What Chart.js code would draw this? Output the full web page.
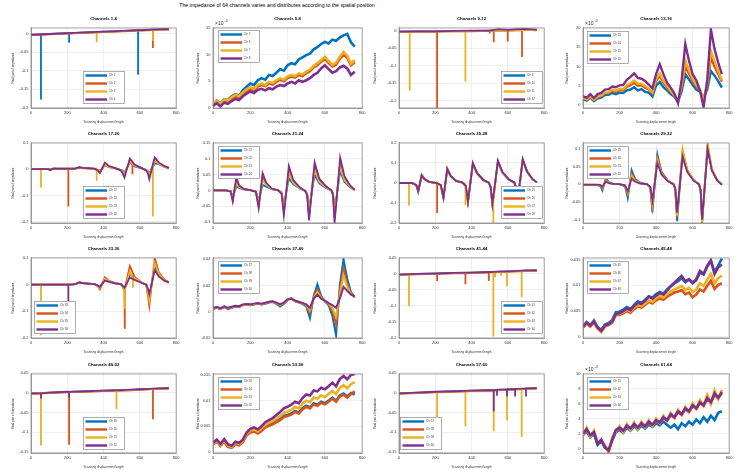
<!DOCTYPE html>
<html>
<head>
<meta charset="utf-8">
<script src="https://cdn.jsdelivr.net/npm/chart.js@4.4.0/dist/chart.umd.min.js"></script>
<style>
  body { margin: 0; width: 735px; height: 476px; position: relative; overflow: hidden; background: #fff;
         font-family: "Liberation Sans", Arial, sans-serif; }
  #title { position: absolute; left: 127px; top: 2px; width: 300px; text-align: center;
           font-size: 5.2px; line-height: 6px; color: #000; }
  canvas { position: absolute; }
</style>
</head>
<body>
<div id="title">The impedance of 64 channels varies and distributes according to the spatial position</div>
<script>
// ---- x positions (scanning displacement) at which values were read ----
var xBase = [0, 100, 200, 300, 400, 500, 550, 600, 650, 700, 760];
var xGrid = [0, 20, 40, 60, 80, 100, 120, 140, 160, 180, 200, 220, 240, 260, 280, 300, 320, 340, 360, 380,
             400, 420, 440, 460, 480, 500, 520, 540, 560, 580, 600, 620, 640, 660, 680, 700, 720, 740, 760];
var xWave = [0, 70, 95, 106, 125, 140, 165, 200, 230, 245, 266, 285, 315, 350, 368, 380, 407, 430, 465, 495,
             505, 515, 545, 570, 605, 635, 644, 652, 682, 705, 735, 760];
var xTicks = [0, 200, 400, 600, 800];

// ---- Channels 1-4 ----
var ch01 = [-0.003, -0.001, 0.001, 0.003, 0.005, 0.007, 0.008, 0.009, 0.010, 0.011, 0.012];
var ch02 = [-0.004, -0.002, 0, 0.002, 0.004, 0.006, 0.007, 0.008, 0.009, 0.010, 0.011];
var ch03 = [-0.0035, -0.0015, 0.0005, 0.0025, 0.0045, 0.0065, 0.0075, 0.0085, 0.0095, 0.0105, 0.0115];
var ch04 = [-0.003, -0.001, 0.0012, 0.0032, 0.0052, 0.0072, 0.0085, 0.0095, 0.0105, 0.0118, 0.0125];
// spikes: [series, x, base, tip]
var spikes01_04 = [[0, 55, -0.002, -0.178], [0, 210, 0.001, -0.025], [2, 362, 0.003, -0.023],
                   [0, 590, 0.009, -0.111], [1, 672, 0.010, -0.039], [2, 672, 0.010, -0.020]];
var yTicks01_04 = [-0.2, -0.15, -0.1, -0.05, 0];

// ---- Channels 5-8 (x 1e-3) ----
var ch05 = [0.8, 1.4, 0.9, 1.6, 1.5, 2.2, 2.6, 2.3, 3.3, 4.0, 4.6, 4.3, 5.2, 5.6, 5.3, 6.2, 6.0, 6.6, 7.3, 7.0,
            8.0, 8.4, 8.2, 9.1, 9.5, 9.9, 10.2, 11.0, 11.4, 12.0, 12.4, 12.1, 12.8, 12.6, 13.2, 13.6, 13.9, 12.3, 11.5];
var ch06 = [0.7, 1.1, 0.6, 1.4, 1.2, 1.8, 2.2, 1.9, 2.6, 3.2, 3.6, 3.3, 4.0, 4.3, 4.1, 4.6, 4.4, 4.9, 5.3, 5.0,
            5.6, 5.9, 5.7, 6.2, 6.0, 6.5, 6.9, 7.6, 8.0, 8.7, 9.2, 8.4, 7.8, 8.1, 9.2, 10.0, 9.4, 8.0, 8.6];
var ch07 = [0.9, 1.3, 0.8, 1.6, 1.4, 2.0, 2.5, 2.2, 2.9, 3.5, 3.9, 3.6, 4.3, 4.6, 4.3, 4.9, 4.7, 5.2, 5.6, 5.3,
            5.9, 6.2, 6.0, 6.5, 6.3, 6.8, 7.2, 7.9, 8.4, 9.0, 9.6, 8.8, 8.1, 8.5, 9.6, 10.5, 9.8, 8.3, 9.0];
var ch08 = [0.4, 0.9, 0.3, 1.0, 0.8, 1.3, 1.7, 1.5, 2.2, 2.7, 3.1, 2.8, 3.4, 3.6, 3.3, 3.7, 3.5, 4.0, 4.3, 4.1,
            4.6, 4.9, 4.6, 5.2, 4.9, 5.2, 5.6, 6.2, 6.6, 7.4, 8.0, 7.3, 6.6, 6.9, 7.6, 7.9, 7.4, 6.2, 6.8];
var yTicks05_08 = [0, 5, 10, 15];

// ---- Channels 9-12 ----
var ch09 = [-0.003, -0.002, -0.002, -0.001, -0.001, 0, 0.001, 0.001, 0.002, 0.003, 0.002];
var ch10 = [-0.004, -0.003, -0.003, -0.002, -0.002, -0.001, 0, 0, 0.001, 0.002, 0.001];
var ch11 = [-0.004, -0.003, -0.002, -0.002, -0.001, -0.001, 0, 0.001, 0.001, 0.002, 0.002];
var ch12 = [-0.003, -0.002, -0.002, -0.001, 0, 0, 0.004, 0.002, 0.004, 0.005, 0.003];
var spikes09_12 = [[2, 59, -0.003, -0.171], [1, 210, -0.003, -0.24], [2, 366, -0.002, -0.145],
                   [1, 500, -0.001, -0.008], [1, 522, -0.001, -0.033], [1, 599, 0, -0.031], [1, 678, 0.001, -0.075]];
var yTicks09_12 = [-0.2, -0.15, -0.1, -0.05, 0];

// ---- Channels 13-16 (x 1e-3) ----
var ch13 = [1.5, 1.1, 1.9, 1.0, 1.7, 1.9, 2.6, 2.6, 3.1, 2.8, 3.2, 3.1, 3.8, 4.0, 4.6, 3.8, 4.1, 3.4, 3.2, 2.2,
            5.0, 6.0, 4.6, 3.8, 2.8, 2.1, 0.9, 3.5, 8.0, 6.6, 5.2, 4.0, 3.4, 2.0, 4.0, 8.8, 7.6, 6.2, 4.5];
var ch14 = [1.7, 1.4, 2.1, 1.3, 2.0, 2.3, 3.0, 3.1, 3.7, 3.4, 3.9, 3.8, 4.7, 5.1, 5.8, 5.0, 5.1, 4.5, 4.0, 3.0,
            6.2, 7.6, 5.8, 4.6, 3.4, 2.5, 0.8, 4.5, 10.0, 8.1, 6.2, 4.8, 3.8, 1.2, 5.0, 12.3, 10.0, 8.0, 6.0];
var ch15 = [1.8, 1.5, 2.3, 1.4, 2.2, 2.5, 3.2, 3.3, 4.0, 3.7, 4.2, 4.1, 5.1, 5.6, 6.4, 5.5, 5.5, 4.9, 4.3, 3.3,
            6.8, 8.2, 6.3, 5.0, 3.6, 2.6, 0.7, 5.2, 11.5, 9.0, 6.8, 5.2, 4.0, 1.0, 5.8, 14.0, 11.3, 8.8, 6.4];
var ch16 = [2.2, 1.9, 2.8, 1.8, 2.8, 3.1, 4.0, 4.1, 4.8, 4.6, 5.1, 5.2, 6.5, 7.3, 8.2, 7.0, 6.8, 6.2, 5.3, 4.3,
            8.0, 10.6, 8.0, 5.8, 4.5, 3.0, 0.5, 6.5, 15.8, 11.5, 8.0, 6.4, 3.8, -0.6, 6.5, 19.6, 14.5, 11.0, 8.0];
var yTicks13_16 = [0, 5, 10, 15, 20];

// ---- Channels 17-20 ----
var ch17 = [0, 0, 0, -0.002, 0.002, 0.001, 0.001, 0.001, 0.001, 0.002, 0.006, 0.004, 0.003, 0.001, -0.003, -0.006,
            0.014, 0.008, 0.003, -0.002, -0.006, -0.012, 0.025, 0.011, 0.004, -0.002, -0.007, -0.016, 0.022, 0.019, 0.009, 0.003];
var ch18 = [0, 0, 0, -0.002, 0.002, 0.002, 0.002, 0.002, 0.002, 0.003, 0.007, 0.005, 0.003, 0.001, -0.004, -0.011,
            0.020, 0.010, 0.004, -0.004, -0.010, -0.022, 0.034, 0.015, 0.005, -0.004, -0.011, -0.026, 0.040, 0.023, 0.011, 0.005];
var ch19 = [0, 0, 0, -0.002, 0.002, 0.002, 0.002, 0.002, 0.002, 0.003, 0.007, 0.004, 0.003, 0.001, -0.004, -0.009,
            0.017, 0.009, 0.003, -0.003, -0.008, -0.018, 0.030, 0.013, 0.005, -0.003, -0.009, -0.022, 0.034, 0.020, 0.010, 0.004];
var ch20 = [0, 0, 0, -0.003, 0.003, 0.002, 0.002, 0.002, 0.002, 0.003, 0.008, 0.005, 0.004, 0.002, -0.005, -0.015,
            0.025, 0.012, 0.004, -0.005, -0.015, -0.032, 0.041, 0.018, 0.006, -0.005, -0.015, -0.038, 0.045, 0.025, 0.012, 0.005];
var spikes17_20 = [[2, 55, 0, -0.07], [1, 206, 0.002, -0.142], [2, 362, 0, -0.044], [1, 559, 0.015, -0.019], [2, 672, 0.010, -0.18]];
var yTicks17_20 = [-0.2, -0.1, 0, 0.1];

// ---- Channels 21-24 ----
var ch21 = [0, 0, -0.002, -0.020, 0.012, 0.008, 0.003, 0.001, -0.003, -0.033, 0.018, 0.012, 0.004, 0, -0.007, -0.047,
            0.038, 0.020, 0.006, -0.001, -0.010, -0.057, 0.050, 0.022, 0.008, 0, -0.010, -0.065, 0.060, 0.027, 0.010, 0.001];
var ch22 = [0, 0, -0.003, -0.030, 0.030, 0.013, 0.004, 0.001, -0.004, -0.048, 0.042, 0.021, 0.005, 0, -0.009, -0.067,
            0.065, 0.028, 0.008, -0.002, -0.014, -0.081, 0.076, 0.031, 0.012, 0, -0.014, -0.088, 0.088, 0.038, 0.014, 0.002];
var ch23 = [0, 0, -0.003, -0.025, 0.022, 0.011, 0.004, 0.001, -0.004, -0.040, 0.032, 0.018, 0.004, 0, -0.008, -0.057,
            0.055, 0.024, 0.007, -0.001, -0.012, -0.068, 0.064, 0.027, 0.010, 0, -0.012, -0.074, 0.074, 0.032, 0.012, 0.001];
var ch24 = [0, 0, -0.004, -0.035, 0.042, 0.016, 0.005, 0.001, -0.005, -0.056, 0.055, 0.025, 0.006, 0, -0.011, -0.079,
            0.077, 0.033, 0.010, -0.002, -0.016, -0.095, 0.089, 0.037, 0.014, 0, -0.016, -0.103, 0.103, 0.045, 0.016, 0.002];
var yTicks21_24 = [-0.1, -0.05, 0, 0.05, 0.1, 0.15];

// ---- Channels 25-28 ----
var ch25 = [0, 0, -0.011, -0.044, 0.036, 0.019, 0.006, 0.001, -0.011, -0.076, 0.066, 0.033, 0.010, 0.002, -0.016, -0.096,
            0.094, 0.047, 0.014, 0.002, -0.022, -0.110, 0.104, 0.051, 0.017, 0.003, -0.022, -0.104, 0.112, 0.056, 0.019, 0.003];
var ch26 = [0, 0, -0.011, -0.043, 0.042, 0.021, 0.006, 0.001, -0.011, -0.075, 0.074, 0.036, 0.010, 0.002, -0.016, -0.095,
            0.098, 0.049, 0.015, 0.002, -0.021, -0.108, 0.108, 0.053, 0.017, 0.003, -0.021, -0.103, 0.116, 0.058, 0.019, 0.003];
var ch27 = [0, 0, -0.010, -0.042, 0.040, 0.021, 0.006, 0.001, -0.011, -0.074, 0.072, 0.036, 0.010, 0.002, -0.016, -0.094,
            0.100, 0.050, 0.015, 0.002, -0.021, -0.107, 0.110, 0.054, 0.018, 0.003, -0.021, -0.102, 0.118, 0.059, 0.020, 0.003];
var ch28 = [0, 0, -0.010, -0.040, 0.038, 0.020, 0.006, 0.001, -0.010, -0.072, 0.070, 0.035, 0.010, 0.002, -0.015, -0.092,
            0.100, 0.050, 0.015, 0.002, -0.020, -0.105, 0.112, 0.055, 0.018, 0.003, -0.020, -0.100, 0.120, 0.060, 0.020, 0.003];
var spikes25_28 = [[2, 55, 0, -0.112], [1, 210, 0.001, -0.15], [2, 366, -0.005, -0.11], [2, 520, -0.09, -0.205]];
var yTicks25_28 = [-0.2, -0.1, 0, 0.1, 0.2];

// ---- Channels 29-32 ----
var ch29 = [-0.002, -0.002, -0.005, -0.018, 0.018, 0.006, 0.001, 0, -0.006, -0.040, 0.040, 0.015, 0.004, 0, -0.010, -0.080,
            0.085, 0.035, 0.010, 0, -0.015, -0.105, 0.090, 0.040, 0.012, 0, -0.020, -0.110, 0.105, 0.040, 0.010, -0.002];
var ch30 = [-0.002, -0.002, -0.004, -0.013, 0.013, 0.005, 0.001, 0, -0.005, -0.030, 0.030, 0.012, 0.003, 0, -0.009, -0.065,
            0.075, 0.032, 0.009, 0, -0.014, -0.095, 0.095, 0.040, 0.012, 0, -0.019, -0.110, 0.110, 0.042, 0.011, -0.001];
var ch31 = [-0.001, -0.001, -0.003, -0.010, 0.010, 0.004, 0.001, 0, -0.004, -0.025, 0.025, 0.010, 0.003, 0, -0.008, -0.055,
            0.070, 0.030, 0.009, 0, -0.013, -0.090, 0.100, 0.042, 0.012, 0, -0.018, -0.108, 0.117, 0.045, 0.012, -0.001];
var ch32 = [-0.001, -0.001, -0.002, -0.008, 0.008, 0.003, 0.001, 0, -0.003, -0.020, 0.016, 0.007, 0.002, 0, -0.007, -0.045,
            0.060, 0.027, 0.008, 0, -0.011, -0.080, 0.078, 0.035, 0.010, 0, -0.016, -0.100, 0.100, 0.040, 0.011, -0.001];
var yTicks29_32 = [-0.1, -0.05, 0, 0.05, 0.1];

// ---- Channels 33-36 ----
var ch33 = [0, 0, 0, 0, 0, 0, 0, 0, 0.001, 0.002, 0.008, 0.006, 0.004, 0.002, -0.004, -0.010,
            0.020, 0.011, 0.005, 0.002, -0.006, -0.020, 0.040, 0.022, 0.008, 0, -0.025, -0.050, 0.070, 0.035, 0.016, 0.008];
var ch34 = [0, 0, 0, 0, 0, 0, 0, 0, 0.001, 0.002, 0.009, 0.006, 0.004, 0.002, -0.006, -0.018,
            0.028, 0.014, 0.006, 0.002, -0.005, -0.015, 0.070, 0.030, 0.010, 0, -0.040, -0.080, 0.100, 0.045, 0.020, 0.008];
var ch35 = [0, 0, 0, 0, 0, 0, 0, 0, 0.001, 0.002, 0.009, 0.006, 0.004, 0.002, -0.004, -0.012,
            0.022, 0.012, 0.005, 0.002, -0.008, -0.030, 0.050, 0.025, 0.009, 0, -0.030, -0.060, 0.080, 0.040, 0.018, 0.008];
var ch36 = [0, 0, 0, 0, 0, 0, 0, 0, 0.001, 0.002, 0.008, 0.006, 0.004, 0.002, -0.003, -0.008,
            0.015, 0.010, 0.005, 0.002, -0.005, -0.012, 0.027, 0.018, 0.008, 0, -0.015, -0.035, 0.054, 0.030, 0.015, 0.008];
var spikes33_36 = [[2, 55, 0, -0.19], [3, 206, 0, -0.1], [1, 517, -0.015, -0.165], [2, 517, -0.02, -0.09], [2, 562, 0.02, -0.012]];
var yTicks33_36 = [-0.2, -0.1, 0, 0.1];

// ---- Channels 37-40 ----
var ch37 = [0.002, 0.003, 0.002, 0.0035, 0.002, 0.003, 0.004, 0.0035, 0.005, 0.0055, 0.005, 0.0055, 0.006, 0.0055, 0.006,
            0.007, 0.0075, 0.006, 0.004, 0.006, 0.009, 0.0105, 0.008, 0.007, 0.006, 0.004, -0.005, 0.012, 0.021, 0.012,
            0.008, 0.005, -0.003, -0.018, 0.020, 0.040, 0.025, 0.015, 0.011];
var ch38 = [0.0025, 0.0032, 0.0022, 0.0038, 0.0025, 0.0032, 0.0042, 0.0038, 0.0052, 0.0056, 0.0052, 0.0058, 0.0062, 0.0058, 0.0063,
            0.0072, 0.0076, 0.0064, 0.0048, 0.0065, 0.0092, 0.0102, 0.0082, 0.0072, 0.0063, 0.0048, -0.001, 0.011, 0.017, 0.011,
            0.0082, 0.0058, 0.001, -0.010, 0.016, 0.033, 0.021, 0.014, 0.011];
var ch39 = [0.0028, 0.0034, 0.0025, 0.004, 0.0028, 0.0035, 0.0044, 0.004, 0.0054, 0.0058, 0.0055, 0.006, 0.0064, 0.006, 0.0066,
            0.0074, 0.0078, 0.0068, 0.0052, 0.0068, 0.0094, 0.010, 0.0084, 0.0074, 0.0066, 0.0052, 0.001, 0.0105, 0.015, 0.0105,
            0.0084, 0.0062, 0.003, -0.004, 0.013, 0.028, 0.019, 0.0135, 0.0112];
var ch40 = [0.003, 0.0036, 0.0028, 0.0042, 0.003, 0.0038, 0.0046, 0.0042, 0.0056, 0.006, 0.0057, 0.0062, 0.0066, 0.0062, 0.0068,
            0.0076, 0.008, 0.007, 0.0058, 0.007, 0.0095, 0.0098, 0.0086, 0.0076, 0.0068, 0.0056, 0.003, 0.010, 0.013, 0.010,
            0.0085, 0.0066, 0.005, 0.003, 0.010, 0.019, 0.016, 0.013, 0.0118];
var yTicks37_40 = [-0.02, 0, 0.02, 0.04];

// ---- Channels 41-44 ----
var ch41 = [-0.002, 0, 0.001, 0.003, 0.004, 0.006, 0.007, 0.008, 0.009, 0.010, 0.011];
var ch42 = [-0.003, -0.001, 0, 0.002, 0.003, 0.005, 0.006, 0.007, 0.008, 0.009, 0.010];
var ch43 = [-0.0025, -0.0005, 0.0005, 0.0025, 0.0035, 0.0055, 0.0065, 0.0075, 0.0085, 0.0095, 0.0105];
var ch44 = [-0.002, 0, 0.0015, 0.0032, 0.0045, 0.0062, 0.0072, 0.0082, 0.0095, 0.011, 0.0115];
var spikes41_44 = [[2, 55, -0.001, -0.101], [1, 210, 0, -0.022], [1, 366, 0.002, -0.032], [1, 495, 0.005, -0.022],
                   [2, 520, 0.005, -0.195], [2, 530, 0.005, -0.01], [2, 562, 0.006, -0.006], [2, 595, 0.0075, -0.038],
                   [2, 676, 0.009, -0.073]];
var yTicks41_44 = [-0.2, -0.15, -0.1, -0.05, 0, 0.05];

// ---- Channels 45-48 ----
var ch45 = [0.0021, 0.0029, 0.0023, 0.0032, 0.0019, 0.0014, 0.0024, 0.0027, 0.0033, 0.0048, 0.0049, 0.0053, 0.0058, 0.0054, 0.0062,
            0.0069, 0.0066, 0.0072, 0.0079, 0.0076, 0.0083, 0.0087, 0.0084, 0.0092, 0.0098, 0.0104, 0.0108, 0.0114, 0.0106, 0.0111,
            0.0104, 0.0110, 0.0125, 0.0121, 0.0136, 0.0148, 0.0126, 0.0138, 0.0152];
var ch46 = [0.0018, 0.0026, 0.0020, 0.0028, 0.0016, 0.0010, 0.0020, 0.0023, 0.0028, 0.0042, 0.0043, 0.0046, 0.0050, 0.0047, 0.0054,
            0.0059, 0.0057, 0.0062, 0.0068, 0.0065, 0.0071, 0.0075, 0.0072, 0.0078, 0.0082, 0.0086, 0.0088, 0.0091, 0.0083, 0.0086,
            0.0077, 0.0082, 0.0092, 0.0088, 0.0099, 0.0109, 0.0093, 0.0101, 0.0104];
var ch47 = [0.0019, 0.0027, 0.0021, 0.0030, 0.0017, 0.0011, 0.0021, 0.0025, 0.0030, 0.0044, 0.0045, 0.0048, 0.0053, 0.0050, 0.0057,
            0.0062, 0.0060, 0.0065, 0.0071, 0.0068, 0.0075, 0.0079, 0.0076, 0.0083, 0.0088, 0.0092, 0.0095, 0.0099, 0.0091, 0.0095,
            0.0087, 0.0092, 0.0104, 0.0099, 0.0111, 0.0122, 0.0104, 0.0114, 0.0119];
var ch48 = [0.0020, 0.0028, 0.0022, 0.0030, 0.0018, 0.0012, 0.0022, 0.0025, 0.0030, 0.0045, 0.0046, 0.0050, 0.0055, 0.0052, 0.0060,
            0.0066, 0.0064, 0.0070, 0.0078, 0.0074, 0.0080, 0.0085, 0.0082, 0.0090, 0.0098, 0.0105, 0.0112, 0.0118, 0.0108, 0.0112,
            0.0105, 0.0112, 0.0128, 0.0122, 0.0138, 0.0148, 0.0122, 0.0135, 0.0140];
var yTicks45_48 = [0, 0.005, 0.01, 0.015];

// ---- Channels 49-52 ----
var ch49 = [-0.002, 0, 0.002, 0.003, 0.005, 0.006, 0.007, 0.008, 0.009, 0.010, 0.011];
var ch50 = [-0.003, -0.001, 0.001, 0.002, 0.004, 0.005, 0.006, 0.007, 0.008, 0.009, 0.010];
var ch51 = [-0.0025, -0.0005, 0.0015, 0.0025, 0.0045, 0.0055, 0.0065, 0.0075, 0.0085, 0.0095, 0.0105];
var ch52 = [-0.002, 0, 0.0022, 0.0035, 0.0052, 0.0065, 0.0075, 0.0085, 0.0095, 0.0105, 0.0112];
var spikes49_52 = [[2, 55, -0.0005, -0.133], [1, 210, 0.0015, -0.131], [3, 55, -0.002, -0.015], [3, 210, 0.002, -0.013],
                   [2, 471, 0.0055, -0.042], [1, 672, 0.0095, -0.067]];
var yTicks49_52 = [-0.15, -0.1, -0.05, 0, 0.05];

// ---- Channels 53-56 ----
var ch53 = [0.0015, 0.0022, 0.0013, 0.0022, 0.0012, 0.0010, 0.0017, 0.0015, 0.0021, 0.0034, 0.0040, 0.0042, 0.0038, 0.0043, 0.0050,
            0.0053, 0.0056, 0.0060, 0.0064, 0.0070, 0.0072, 0.0075, 0.0080, 0.0077, 0.0085, 0.0090, 0.0087, 0.0095, 0.0092, 0.0098,
            0.0095, 0.0100, 0.0106, 0.0100, 0.0110, 0.0114, 0.0108, 0.0115, 0.0112];
var ch54 = [0.0014, 0.0020, 0.0012, 0.0020, 0.0010, 0.0008, 0.0015, 0.0013, 0.0019, 0.0032, 0.0038, 0.0040, 0.0036, 0.0041, 0.0048,
            0.0051, 0.0054, 0.0058, 0.0062, 0.0068, 0.0070, 0.0073, 0.0078, 0.0075, 0.0083, 0.0088, 0.0085, 0.0093, 0.0090, 0.0096,
            0.0093, 0.0098, 0.0104, 0.0098, 0.0108, 0.0112, 0.0106, 0.0113, 0.0118];
var ch55 = [0.0016, 0.0022, 0.0014, 0.0023, 0.0013, 0.0010, 0.0018, 0.0016, 0.0022, 0.0035, 0.0042, 0.0044, 0.0040, 0.0046, 0.0053,
            0.0057, 0.0060, 0.0065, 0.0070, 0.0076, 0.0079, 0.0082, 0.0088, 0.0085, 0.0094, 0.0100, 0.0097, 0.0106, 0.0104, 0.0110,
            0.0107, 0.0113, 0.0119, 0.0113, 0.0125, 0.0130, 0.0124, 0.0132, 0.0136];
var ch56 = [0.0018, 0.0024, 0.0016, 0.0025, 0.0015, 0.0012, 0.0020, 0.0018, 0.0024, 0.0038, 0.0045, 0.0048, 0.0044, 0.0050, 0.0058,
            0.0062, 0.0066, 0.0072, 0.0078, 0.0085, 0.0088, 0.0092, 0.0098, 0.0095, 0.0105, 0.0112, 0.0110, 0.0120, 0.0118, 0.0125,
            0.0122, 0.0128, 0.0135, 0.0128, 0.0142, 0.0148, 0.0142, 0.0150, 0.0152];
var yTicks53_56 = [0, 0.005, 0.01, 0.015];

// ---- Channels 57-60 ----
var ch57 = [-0.002, 0, 0.002, 0.003, 0.005, 0.006, 0.007, 0.008, 0.009, 0.010, 0.011];
var ch58 = [-0.003, -0.001, 0.001, 0.002, 0.004, 0.005, 0.006, 0.007, 0.008, 0.009, 0.010];
var ch59 = [-0.0025, -0.0005, 0.0015, 0.0025, 0.0045, 0.0055, 0.0065, 0.0075, 0.0085, 0.0095, 0.0105];
var ch60 = [-0.002, 0, 0.0022, 0.0035, 0.0052, 0.0065, 0.0075, 0.0085, 0.0095, 0.0105, 0.0112];
var spikes57_60 = [[2, 210, 0.0015, -0.065], [2, 366, 0.0028, -0.085], [3, 522, 0.006, -0.0475], [2, 522, 0.0055, -0.0975],
                   [2, 595, 0.007, -0.07], [2, 676, 0.0085, -0.112], [3, 595, 0.0075, -0.01], [3, 540, 0.007, -0.008],
                   [3, 640, 0.009, -0.01], [3, 700, 0.0105, -0.01]];
var yTicks57_60 = [-0.15, -0.1, -0.05, 0, 0.05];

// ---- Channels 61-64 (x 1e-3) ----
var ch61 = [1.8, 2.3, 1.5, 2.0, 0.5, 1.0, 0.1, -0.2, 1.1, 2.2, 2.5, 2.1, 2.8, 2.4, 3.0, 2.5, 3.1, 2.7, 3.2, 2.9,
            3.4, 3.1, 3.6, 3.2, 2.8, 3.2, 2.6, 3.4, 3.0, 3.6, 3.2, 3.9, 3.4, 4.2, 3.6, 4.4, 3.8, 4.8, 5.0];
var ch62 = [1.9, 2.5, 1.7, 2.3, 0.7, 1.1, 0.3, -0.4, 1.3, 2.4, 2.7, 2.3, 3.0, 2.6, 3.2, 2.7, 3.3, 2.9, 3.5, 3.1,
            3.7, 3.4, 4.1, 3.7, 4.5, 4.1, 4.9, 4.5, 5.3, 4.9, 5.7, 5.3, 6.1, 5.7, 6.7, 6.1, 7.2, 6.7, 7.4];
var ch63 = [1.8, 2.8, 1.6, 2.4, 0.8, 1.0, 0.4, -0.5, 1.5, 2.3, 3.0, 2.2, 3.3, 2.5, 3.5, 2.6, 3.6, 2.9, 3.8, 3.0,
            4.0, 3.4, 4.4, 3.7, 4.8, 4.1, 5.2, 4.5, 5.6, 4.9, 6.1, 5.3, 6.5, 5.7, 7.2, 6.0, 7.8, 6.6, 7.9];
var ch64 = [2.0, 2.6, 1.8, 2.2, 0.6, 1.2, 0.2, -0.3, 1.2, 2.5, 2.8, 2.4, 3.1, 2.7, 3.3, 2.8, 3.4, 3.0, 3.6, 3.2,
            3.8, 3.5, 4.2, 3.8, 4.6, 4.2, 5.0, 4.6, 5.4, 5.0, 5.8, 5.4, 6.2, 5.8, 6.8, 6.2, 7.4, 6.8, 7.6];
var yTicks61_64 = [0, 2, 4, 6, 8, 10];

var colors = ['#0072BD', '#D95319', '#EDB120', '#7E2F8E'];

// layout of the 4x4 grid (plot-area edges in page pixels)
var colLeft = [31, 213, 399, 583];
var colRight = [177, 363, 545, 730];
var colYTitle = [13, 197.5, 375, 566.5];
var rowTop = [28, 143, 258, 374];
var rowBottom = [108, 223, 338, 453];

function names(a) {
    return [0, 1, 2, 3].map(function (i) { return 'Ch ' + (a + i); });
}

var panels = [
    { t: 'Channels 1-4', xs: xBase, ys: [ch01, ch02, ch03, ch04], sp: spikes01_04, min: -0.201, max: 0.0153, ticks: yTicks01_04, lg: [52, 43], lw: 1.8 },
    { t: 'Channels 5-8', xs: xGrid, ys: [ch05, ch06, ch07, ch08], sp: [], min: 0, max: 15, ticks: yTicks05_08, lg: [5, 2.5], lw: 2.6, mult: true },
    { t: 'Channels 9-12', xs: xBase, ys: [ch09, ch10, ch11, ch12], sp: spikes09_12, min: -0.221, max: 0.0076, ticks: yTicks09_12, lg: [101.5, 43], lw: 1.8 },
    { t: 'Channels 13-16', xs: xGrid, ys: [ch13, ch14, ch15, ch16], sp: [], min: -0.8, max: 20, ticks: yTicks13_16, lg: [3.5, 3.5], lw: 2.4, mult: true },
    { t: 'Channels 17-20', xs: xWave, ys: [ch17, ch18, ch19, ch20], sp: spikes17_20, min: -0.205, max: 0.1, ticks: yTicks17_20, lg: [51.5, 43.5], lw: 1.8 },
    { t: 'Channels 21-24', xs: xWave, ys: [ch21, ch22, ch23, ch24], sp: [], min: -0.103, max: 0.15, ticks: yTicks21_24, lg: [4.5, 3.5], lw: 1.8 },
    { t: 'Channels 25-28', xs: xWave, ys: [ch25, ch26, ch27, ch28], sp: spikes25_28, min: -0.2, max: 0.2, ticks: yTicks25_28, lg: [101.5, 43.5], lw: 1.8 },
    { t: 'Channels 29-32', xs: xWave, ys: [ch29, ch30, ch31, ch32], sp: [], min: -0.11, max: 0.117, ticks: yTicks29_32, lg: [3.5, 3.5], lw: 1.8 },
    { t: 'Channels 33-36', xs: xWave, ys: [ch33, ch34, ch35, ch36], sp: spikes33_36, min: -0.2, max: 0.1, ticks: yTicks33_36, lg: [2.5, 43.5], lw: 1.8 },
    { t: 'Channels 37-40', xs: xGrid, ys: [ch37, ch38, ch39, ch40], sp: [], min: -0.02, max: 0.041, ticks: yTicks37_40, lg: [4.5, 3.5], lw: 2.0 },
    { t: 'Channels 41-44', xs: xBase, ys: [ch41, ch42, ch43, ch44], sp: spikes41_44, min: -0.2, max: 0.05, ticks: yTicks41_44, lg: [101.5, 43.5], lw: 1.8 },
    { t: 'Channels 45-48', xs: xGrid, ys: [ch45, ch46, ch47, ch48], sp: [], min: -0.0002, max: 0.0153, ticks: yTicks45_48, lg: [3.5, 3], lw: 2.6 },
    { t: 'Channels 49-52', xs: xBase, ys: [ch49, ch50, ch51, ch52], sp: spikes49_52, min: -0.152, max: 0.047, ticks: yTicks49_52, lg: [51.5, 43], lw: 1.8 },
    { t: 'Channels 53-56', xs: xGrid, ys: [ch53, ch54, ch55, ch56], sp: [], min: -0.0002, max: 0.0152, ticks: yTicks53_56, lg: [4.5, 3], lw: 2.6 },
    { t: 'Channels 57-60', xs: xBase, ys: [ch57, ch58, ch59, ch60], sp: spikes57_60, min: -0.152, max: 0.047, ticks: yTicks57_60, lg: [1, 43], lw: 1.8 },
    { t: 'Channels 61-64', xs: xGrid, ys: [ch61, ch62, ch63, ch64], sp: [], min: -0.6, max: 10, ticks: yTicks61_64, lg: [3.5, 3], lw: 2.6, mult: true }
];

Chart.defaults.font.family = '"Liberation Sans", Arial, sans-serif';

function seriesPoints(xs, ys, sp, k) {
    var pts = xs.map(function (x, i) { return { x: x, y: ys[i] }; });
    sp.forEach(function (s) {
        if (s[0] === k) {
            pts.push({ x: s[1], y: s[2] }, { x: s[1], y: s[3] }, { x: s[1], y: s[2] });
        }
    });
    pts.sort(function (a, b) { return a.x - b.x; });
    return pts;
}

function drawExtras(chart, p) {
    var ctx = chart.ctx, a = chart.chartArea;
    ctx.save();
    // axes box
    ctx.strokeStyle = '#8c8c8c';
    ctx.lineWidth = 0.8;
    ctx.strokeRect(a.left, a.top, a.right - a.left, a.bottom - a.top);
    // legend
    var lx = Math.round(a.left + p.lg[0]), ly = Math.round(a.top + p.lg[1]);
    ctx.fillStyle = '#fff';
    ctx.fillRect(lx, ly, 42, 33);
    ctx.strokeStyle = '#9a9a9a';
    ctx.strokeRect(lx + 0.5, ly + 0.5, 41, 32);
    chart.data.datasets.forEach(function (d, i) {
        var y = ly + 4.5 + i * 8;
        ctx.strokeStyle = d.borderColor;
        ctx.lineWidth = 2.4;
        ctx.beginPath();
        ctx.moveTo(lx + 2.5, y);
        ctx.lineTo(lx + 24, y);
        ctx.stroke();
        ctx.fillStyle = '#444';
        ctx.font = '3px "Liberation Sans", Arial, sans-serif';
        ctx.textBaseline = 'middle';
        ctx.fillText(d.label, lx + 26, y);
    });
    // exponent label
    if (p.mult) {
        ctx.fillStyle = '#333';
        ctx.textBaseline = 'alphabetic';
        ctx.font = '5px "Liberation Sans", Arial, sans-serif';
        ctx.fillText('\u00d710', a.left + 2, a.top - 3);
        var w = ctx.measureText('\u00d710').width;
        ctx.font = '3.5px "Liberation Sans", Arial, sans-serif';
        ctx.fillText('-3', a.left + 3 + w, a.top - 6);
    }
    ctx.restore();
}

panels.forEach(function (p, n) {
    var c = n % 4, r = Math.floor(n / 4);
    var left = Math.round(colYTitle[c] - 1.8);
    var top = rowTop[r] - 15;
    var width = colRight[c] + 5 - left;
    var height = rowBottom[r] + 16 - top;
    var yw = colLeft[c] - left;

    var cv = document.createElement('canvas');
    cv.width = width;
    cv.height = height;
    cv.style.left = left + 'px';
    cv.style.top = top + 'px';
    document.body.appendChild(cv);

    var chNames = names(n * 4 + 1);
    new Chart(cv, {
        type: 'line',
        data: {
            datasets: p.ys.map(function (ys, k) {
                return {
                    label: chNames[k],
                    data: seriesPoints(p.xs, ys, p.sp, k),
                    borderColor: colors[k],
                    backgroundColor: colors[k],
                    borderWidth: p.lw,
                    pointRadius: 0,
                    tension: 0,
                    order: 3 - k
                };
            })
        },
        options: {
            responsive: false,
            animation: false,
            events: [],
            layout: { autoPadding: false, padding: { left: 0, right: 5, top: 0, bottom: 0 } },
            plugins: {
                legend: { display: false },
                tooltip: { enabled: false },
                title: {
                    display: true, text: p.t, fullSize: false, color: '#000',
                    font: { size: 4.3, weight: 'bold' }, padding: { top: 3.5, bottom: 6.3 }
                }
            },
            scales: {
                x: {
                    type: 'linear', min: 0, max: 800,
                    afterBuildTicks: function (s) { s.ticks = xTicks.map(function (v) { return { value: v }; }); },
                    afterFit: function (s) { s.height = 16; },
                    grid: { color: '#e4e4e4', lineWidth: 0.6, drawTicks: false },
                    border: { color: '#8c8c8c', width: 0.8 },
                    ticks: { color: '#333', font: { size: 4 }, padding: 2.5, maxRotation: 0, autoSkip: false },
                    title: { display: true, text: 'Scanning displacement length', color: '#333', font: { size: 3 }, padding: 0 }
                },
                y: {
                    type: 'linear', min: p.min, max: p.max,
                    afterBuildTicks: function (s) { s.ticks = p.ticks.map(function (v) { return { value: v }; }); },
                    afterFit: function (s) { s.width = yw; },
                    grid: { color: '#e4e4e4', lineWidth: 0.6, drawTicks: false },
                    border: { color: '#8c8c8c', width: 0.8 },
                    ticks: {
                        color: '#333', font: { size: 4 }, padding: 2.5, autoSkip: false,
                        callback: function (v) { return String(+Number(v).toFixed(6)); }
                    },
                    title: { display: true, text: 'Real part of impedance', color: '#333', font: { size: 3 }, padding: 0 }
                }
            }
        },
        plugins: [{ id: 'extras', afterDraw: function (chart) { drawExtras(chart, p); } }]
    });
});
</script>
</body>
</html>
